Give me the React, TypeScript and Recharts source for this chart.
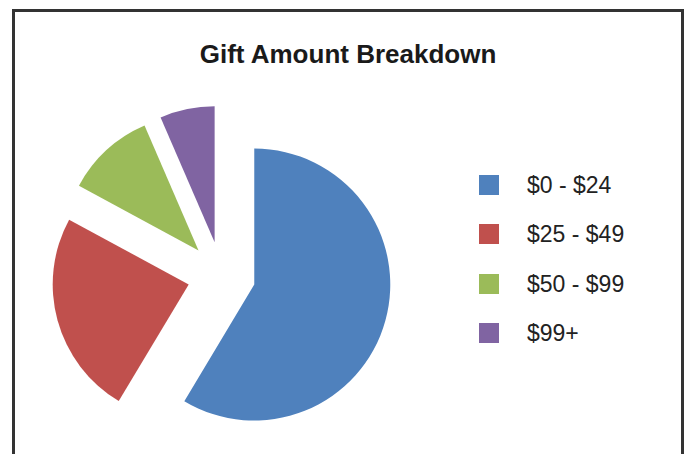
import React from 'react';
import { PieChart, Pie, Cell, Legend } from 'recharts';

const CATEGORIES = ['$0 - $24', '$25 - $49', '$50 - $99', '$99+'];
const GIFT_SHARES = [58.6, 24.3, 10.6, 6.5];
const COLORS = ['#4F81BD', '#C0504D', '#9BBB59', '#8064A2'];

const data = CATEGORIES.map((name, i) => ({ name, value: GIFT_SHARES[i] }));
const total = GIFT_SHARES.reduce((a, b) => a + b, 0);

const CX = 206.5;
const CY = 263.5;
const RADIUS = 136;
const EXPLODE = 34;

// push every slice out along its own mid angle
const offsets = GIFT_SHARES.map((v, i) => {
    const before = GIFT_SHARES.slice(0, i).reduce((a, b) => a + b, 0);
    const mid = ((90 - (360 * (before + v / 2)) / total) * Math.PI) / 180;
    return { dx: EXPLODE * Math.cos(mid), dy: -EXPLODE * Math.sin(mid) };
});

const renderLegend = () => (
    <div>
        {CATEGORIES.map((c, i) => (
            <div key={c} style={{ display: 'flex', alignItems: 'center', height: 49.5 }}>
                <span style={{ display: 'inline-block', width: 20, height: 20, background: COLORS[i], marginRight: 28 }} />
                <span style={{ fontSize: 23, color: '#222', lineHeight: '26px' }}>{c}</span>
            </div>
        ))}
    </div>
);

const App: React.FC = () => {
    return (
        <div
            style={{
                position: 'absolute',
                left: 12,
                top: 9,
                width: 672,
                height: 445,
                boxSizing: 'border-box',
                border: '3px solid #333',
                borderBottom: 'none',
                background: '#fff',
                fontFamily: '"Liberation Sans", Arial, sans-serif',
            }}
        >
            <PieChart width={666} height={442} margin={{ top: 0, right: 0, bottom: 0, left: 0 }}>
                {offsets.map((o, i) => (
                    <Pie
                        key={`pie-${i}`}
                        data={data}
                        dataKey="value"
                        nameKey="name"
                        cx={CX + o.dx}
                        cy={CY + o.dy}
                        outerRadius={RADIUS}
                        startAngle={90}
                        endAngle={-270}
                        stroke="none"
                        isAnimationActive={false}
                    >
                        {data.map((entry, j) => (
                            <Cell key={`cell-${j}`} fill={j === i ? COLORS[j] : 'none'} />
                        ))}
                    </Pie>
                ))}
                <Legend
                    layout="vertical"
                    align="right"
                    verticalAlign="middle"
                    content={renderLegend}
                    wrapperStyle={{ left: 464, top: 148, width: 180 }}
                />
            </PieChart>
            <div
                style={{
                    position: 'absolute',
                    top: 27,
                    left: 0,
                    right: 0,
                    textAlign: 'center',
                    fontSize: 26,
                    lineHeight: '30px',
                    fontWeight: 'bold',
                    color: '#1a1a1a',
                }}
            >
                Gift Amount Breakdown
            </div>
        </div>
    );
};

export default App;
